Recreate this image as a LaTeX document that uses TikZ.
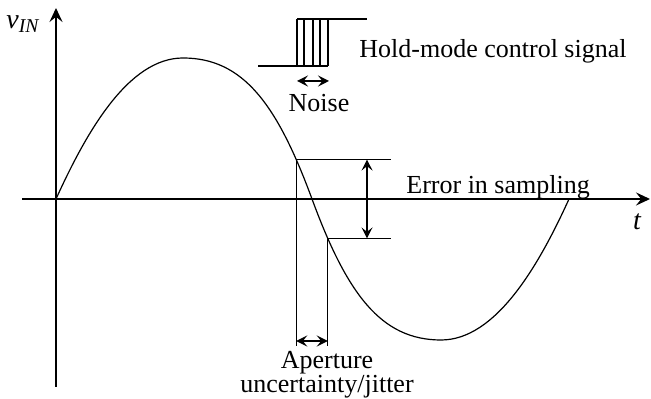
\documentclass[tikz,border=0pt]{standalone}
\usepackage{fontspec}
\setmainfont{Liberation Serif}
\usetikzlibrary{arrows.meta}

\begin{document}
\begin{tikzpicture}[
    x=0.5pt, y=-0.5pt,
    axis/.style={line width=1.1pt, -{Stealth[length=7pt, width=6.5pt, inset=2.6pt]}},
    wave/.style={line width=0.6pt},
    thinline/.style={line width=0.6pt},
    dim/.style={line width=0.6pt, <->},
    lbl/.style={inner sep=0pt, font=\fontsize{13}{15}\selectfont},
    >={Stealth[length=5.5pt, width=5.5pt, inset=2.2pt]}
  ]
    \useasboundingbox (0,0) rectangle (651,399);

    % Axes
    \coordinate (orig) at (56,199);
    \coordinate (ybot) at (56,387);
    \coordinate (ytop) at (56,8);
    \coordinate (xleft) at (22,199);
    \coordinate (xright) at (650,199);
    \draw[axis] (ybot) -- (ytop);
    \draw[axis] (xleft) -- (xright);
    \node[lbl, font=\fontsize{14}{16}\selectfont\itshape] (vin) at (23,24) {v\textsubscript{IN}};
    \node[lbl, font=\fontsize{14}{16}\selectfont\itshape] (tlabel) at (637,222) {t};

    % Input signal
    \draw[wave] (orig) .. controls (86,133) and (128,58) .. (183,58)
      .. controls (243,58) and (277,104) .. (312,199) coordinate[pos=0.85] (s1)
      .. controls (347,294) and (381,340) .. (441,340) coordinate[pos=0.15] (s2)
      .. controls (496,340) and (539,265) .. (569,199);

    % Sampling instants and error
    \coordinate (errx) at (367,0);
    \coordinate (errend) at (391,0);
    \coordinate (apy) at (0,341);
    \coordinate (apbot) at (0,346);
    \draw[thinline] (s1) -- (s1 -| errend);
    \draw[thinline] (s2) -- (s2 -| errend);
    \draw[thinline] (s1) -- (s1 |- apbot);
    \draw[thinline] (s2) -- (s2 |- apbot);
    \draw[dim] (s1 -| errx) -- (s2 -| errx);
    \draw[dim, line width=0.9pt] (s1 |- apy) -- (s2 |- apy);
    \node[lbl, anchor=base west] (error) at (406,194) {Error in sampling};
    \node[lbl, align=center, anchor=south, font=\fontsize{13}{10}\selectfont]
      (aperture) at (327,399) {Aperture\\uncertainty/jitter};

    % Hold-mode control signal
    \coordinate (lowstart) at (258,66);
    \coordinate (lowend) at (328,66);
    \coordinate (highstart) at (297,19);
    \coordinate (highend) at (367,19);
    \draw[thinline] (lowstart) -- (lowend);
    \draw[thinline] (highstart) -- (highend);
    \foreach \xx in {297,304,313,320,328}
      \draw[thinline] (\xx,19) -- (\xx,66);
    \coordinate (noisea) at (297,81);
    \coordinate (noiseb) at (329,81);
    \draw[dim, line width=0.9pt] (noisea) -- (noiseb);
    \node[lbl, anchor=base] (noise) at (319,112) {Noise};
    \node[lbl, anchor=base west] (hold) at (359,58) {Hold-mode control signal};
\end{tikzpicture}
\end{document}
